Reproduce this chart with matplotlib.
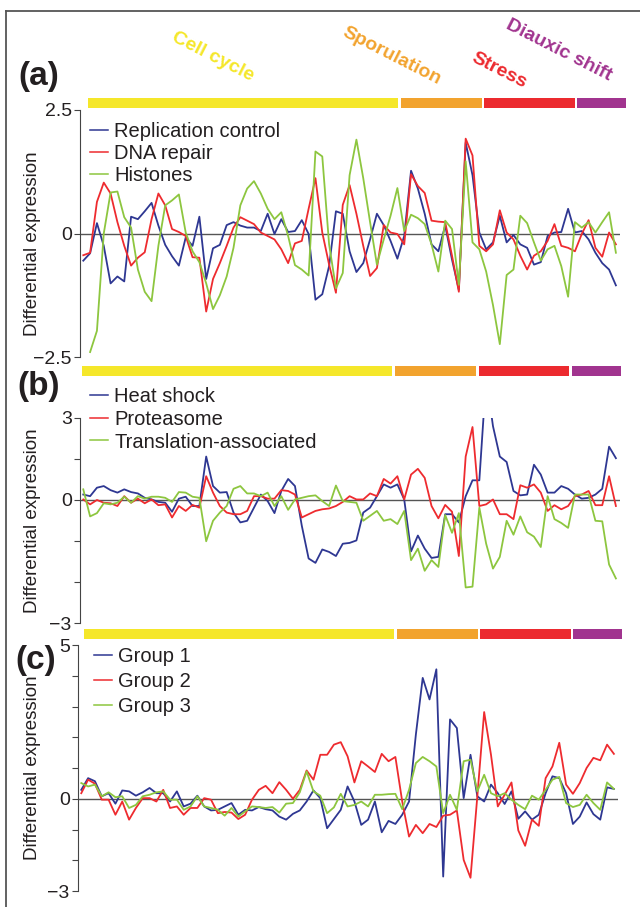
import numpy as np
import matplotlib
matplotlib.use('Agg')
import matplotlib.pyplot as plt
import matplotlib.transforms as mtransforms
from matplotlib.lines import Line2D
from matplotlib.patches import Rectangle

plt.rcParams['font.family'] = ['Liberation Sans', 'DejaVu Sans']

# condition phases shown as colour bars above each panel (edges in condition index)
phases = ['Cell cycle', 'Sporulation', 'Stress', 'Diauxic shift']
phase_colors = ['#f5e72a', '#f2a32e', '#ec2a2f', '#a1348f']
phase_edges = [0.5, 46.3, 58.55, 72.15, 79.75]

# (a) cell-cycle related modules
replication_control = [
    -0.55, -0.40, 0.21, -0.25, -1.01, -0.87, -0.97, 0.34, 0.29, 0.45,
    0.62, 0.16, -0.23, -0.46, -0.65, -0.08, -0.25, 0.34, -0.92, -0.30,
    -0.23, 0.17, 0.23, 0.16, 0.12, 0.12, 0.05, 0.40, -0.01, 0.29,
    0.03, 0.05, 0.27, -0.01, -1.34, -1.23, -0.66, 0.45, 0.40, -0.36,
    -0.78, -0.60, -0.12, 0.40, 0.17, -0.15, -0.51, -0.05, 1.27, 0.91,
    0.40, -0.22, -0.36, 0.16, -0.53, -1.14, 1.84, 1.18, 0.02, -0.32,
    -0.18, 0.36, -0.18, -0.03, -0.22, -0.29, -0.63, -0.58, -0.05, 0.02,
    0.03, 0.50, 0.02, 0.05, -0.12, -0.39, -0.60, -0.73, -1.05]
dna_repair = [
    -0.44, -0.39, 0.64, 1.03, 0.81, 0.23, -0.25, -0.65, -0.49, -0.38,
    0.29, 0.81, 0.57, 0.09, 0.03, -0.05, -0.48, -0.49, -1.58, -0.92,
    -0.60, -0.25, 0.12, 0.33, 0.26, 0.19, 0.02, -0.05, -0.12, -0.32,
    -0.60, -0.20, -0.15, 0.50, 1.12, 0.02, -0.63, -1.20, 0.58, 0.98,
    0.40, -0.25, -0.86, -0.70, 0.17, 0.02, -0.01, -0.22, 1.20, 0.96,
    0.82, 0.26, 0.24, 0.23, -0.45, -1.18, 1.92, 1.58, -0.25, -0.36,
    -0.22, 0.47, 0.02, -0.12, -0.45, -0.73, -0.45, -0.36, -0.15, 0.19,
    -0.25, -0.29, -0.36, -0.01, 0.27, -0.29, -0.47, 0.02, -0.22]
histones = [
    np.nan, -2.40, -1.97, 0.00, 0.83, 0.85, 0.33, 0.12, -0.73, -1.18,
    -1.37, -0.25, 0.57, 0.67, 0.79, 0.02, -0.36, -0.58, -1.01, -1.53,
    -1.25, -0.87, -0.29, 0.57, 0.91, 1.06, 0.81, 0.50, 0.29, 0.43,
    -0.05, -0.64, -0.73, -0.85, 1.66, 1.56, -0.22, -1.11, -0.80, 1.18,
    1.90, 1.12, 0.23, -0.63, -0.12, 0.36, 0.92, 0.05, 0.38, 0.31,
    0.19, -0.22, -0.77, 0.26, 0.09, -1.04, 1.46, -0.18, -0.32, -0.77,
    -1.45, -2.24, -0.84, -0.73, 0.36, 0.21, -0.18, -0.55, -0.32, -0.25,
    -0.66, -1.28, 0.23, 0.12, 0.23, 0.02, 0.23, 0.43, -0.39]

# (b) stress related modules
heat_shock = [
    0.20, 0.14, 0.45, 0.51, 0.36, 0.27, 0.39, 0.29, 0.24, 0.08,
    0.02, -0.07, -0.10, -0.43, 0.05, 0.12, -0.22, -0.22, 1.59, 0.51,
    0.27, 0.29, -0.46, -0.82, -0.76, -0.28, 0.20, -0.04, -0.48, 0.33,
    0.77, 0.51, -0.94, -2.14, -2.30, -1.81, -1.90, -2.05, -1.60, -1.57,
    -1.48, -0.46, -0.28, 0.14, 0.57, 0.45, 0.57, 0.02, -1.88, -1.30,
    -1.78, -2.12, -2.08, -0.52, -0.52, -0.82, 0.14, 0.72, 0.72, 4.50,
    2.70, 1.59, 1.39, 0.33, 0.17, 0.20, 1.29, 0.93, 0.27, 0.27,
    0.51, 0.41, 0.20, 0.05, 0.08, 0.20, 0.41, 1.95, 1.53]
proteasome = [
    0.02, -0.16, 0.00, -0.10, -0.12, -0.22, 0.14, -0.10, 0.05, -0.12,
    0.02, -0.19, -0.16, -0.64, -0.22, -0.40, -0.18, -0.28, 0.87, 0.27,
    -0.22, -0.46, -0.52, -0.52, -0.40, 0.14, 0.14, 0.05, 0.05, 0.36,
    0.33, 0.20, -0.64, -0.52, -0.40, -0.34, -0.31, -0.22, -0.07, 0.14,
    0.02, 0.02, 0.24, 0.14, 0.77, 0.60, 0.87, 0.02, 0.93, 1.14,
    0.81, -0.22, -0.67, -0.18, -0.43, -2.05, 1.59, 2.67, -0.22, -0.16,
    0.02, -0.52, -0.52, -0.70, 0.54, 0.45, 0.57, 0.27, -0.40, -0.19,
    -0.34, -0.22, 0.14, 0.20, 0.33, -0.19, -0.19, 0.87, -0.22]
translation = [
    0.39, -0.60, -0.48, -0.12, -0.16, -0.10, 0.12, -0.10, 0.14, 0.05,
    0.12, 0.12, 0.08, -0.07, 0.29, 0.27, 0.12, 0.08, -1.51, -0.76,
    -0.46, -0.22, 0.41, 0.51, 0.24, 0.24, 0.14, 0.27, -0.22, 0.14,
    -0.36, 0.02, 0.08, 0.14, 0.17, -0.04, -0.22, 0.53, -0.04, -0.07,
    -0.10, -0.76, -0.58, -0.40, -0.76, -0.70, -0.88, -0.40, -2.20, -1.78,
    -2.59, -2.20, -2.45, -0.55, -1.20, -0.48, -3.20, -3.17, -0.28, -1.60,
    -2.51, -2.08, -0.76, -1.27, -0.60, -1.18, -1.34, -1.72, 0.14, -0.70,
    -0.84, -1.02, 0.20, 0.20, 0.20, -0.76, -0.78, -2.36, -2.87]

# (c) groups
group1 = [
    0.29, 0.67, 0.57, 0.08, 0.18, -0.16, 0.27, 0.24, 0.10, 0.21,
    0.35, 0.18, 0.18, -0.09, 0.24, -0.25, -0.16, 0.10, -0.25, -0.38,
    -0.36, -0.25, -0.14, -0.52, -0.36, -0.38, -0.27, -0.34, -0.38, -0.58,
    -0.68, -0.49, -0.38, -0.09, 0.27, 0.02, -0.96, -0.66, -0.36, 0.40,
    -0.09, -0.85, -0.68, -0.09, -1.09, -0.72, -0.82, -0.52, -0.09, 2.09,
    3.93, 3.23, 4.21, -2.53, 2.58, 2.30, 0.02, 1.43, 0.08, -0.09,
    0.46, 0.18, -0.17, 0.24, -0.65, -0.41, -0.68, -0.52, 0.18, 0.73,
    0.67, 0.18, -0.82, -0.58, -0.12, -0.50, -0.68, 0.37, 0.32]
group2 = [
    0.18, 0.62, 0.49, -0.03, -0.03, -0.52, -0.09, -0.68, -0.30, 0.02,
    0.02, -0.09, 0.29, -0.30, -0.25, -0.52, -0.30, -0.30, 0.02, -0.03,
    -0.47, -0.43, -0.45, -0.66, -0.52, -0.03, 0.29, 0.42, 0.18, 0.54,
    0.29, 0.00, 0.29, 0.92, 0.62, 1.43, 1.43, 1.76, 1.84, 1.38,
    0.53, 1.22, 1.05, 0.87, 1.46, 1.22, 1.36, -0.09, -1.23, -0.85,
    -1.12, -0.82, -0.92, -0.55, -0.52, -0.38, -1.99, -2.57, 0.08, 2.82,
    1.43, -0.25, 0.13, 0.53, -1.03, -1.53, -0.68, -0.88, 0.67, 1.05,
    1.82, 0.46, 0.16, 0.51, 1.00, 1.33, 1.25, 1.76, 1.46]
group3 = [
    0.51, 0.40, 0.46, 0.08, 0.21, 0.05, 0.08, -0.30, -0.20, 0.08,
    0.13, 0.21, 0.24, -0.03, -0.03, -0.36, -0.25, 0.08, -0.25, -0.30,
    -0.36, -0.55, -0.30, -0.58, -0.41, -0.25, -0.27, -0.30, -0.27, -0.45,
    -0.16, -0.14, 0.21, 0.89, 0.24, 0.10, -0.47, -0.28, 0.16, -0.25,
    -0.20, -0.09, -0.25, 0.13, 0.13, 0.15, 0.16, -0.34, 0.29, 1.16,
    1.36, 1.22, 1.05, -0.47, 0.13, -0.36, 1.22, 1.27, 0.24, 0.78,
    0.18, 0.08, 0.18, -0.03, -0.20, -0.34, 0.10, -0.03, 0.29, 0.62,
    0.71, -0.14, -0.27, -0.20, 0.13, -0.14, -0.36, 0.53, 0.32]

line_colors = ['#2e3792', '#ee2b2f', '#8dc63f']
ink = '#231f20'

W, H = 640, 907
fig = plt.figure(figsize=(W / 100, H / 100), dpi=100)


def px_axes(left, top, right, bottom):
    return fig.add_axes([left / W, 1 - bottom / H, (right - left) / W, (bottom - top) / H])


panels = [
    dict(tag='(a)', box=(80, 110, 620, 357), series=[replication_control, dna_repair, histones],
         names=['Replication control', 'DNA repair', 'Histones'],
         ylim=(-2.5, 2.5), ticks=[-2.5, 0, 2.5], ticklabels=['\u22122.5', '0', '2.5'],
         leg=(0.019, 0.952), spacing=0.16, bar=(2, 10), shift=0.0, tagpos=(39, 76), ylab_y=0.46),
    dict(tag='(b)', box=(80, 418, 620, 623), series=[heat_shock, proteasome, translation],
         names=['Heat shock', 'Proteasome', 'Translation-associated'],
         ylim=(-4.5, 3), ticks=[-4.5, -3, -1.5, 0, 1.5, 3], ticklabels=['\u22123', '', '', '0', '', '3'],
         leg=(0.019, 1.15), spacing=0.18, bar=(42, 10), shift=-0.85, tagpos=(39, 386), ylab_y=0.5),
    dict(tag='(c)', box=(78, 645, 618, 891), series=[group1, group2, group3],
         names=['Group 1', 'Group 2', 'Group 3'],
         ylim=(-3, 5), ticks=list(range(-3, 6)), ticklabels=['\u22123', '', '', '0', '', '', '', '', '5'],
         leg=(0.03, 0.993), spacing=0.3, bar=(6, 10), shift=-0.3, tagpos=(36, 661), ylab_y=0.5),
]

for p in panels:
    left, top, right, bottom = p['box']
    ax = px_axes(left, top, right, bottom)
    height_px = bottom - top
    x = np.arange(len(p['series'][0]))
    ax.axhline(0, color='#555555', lw=1.0, zorder=1)
    for vals, name, col in zip(p['series'], p['names'], line_colors):
        ax.plot(x, vals, color=col, lw=1.3, label=name, zorder=2)
    ax.set_xlim(-0.48, 78.6)
    ax.set_ylim(*p['ylim'])
    ax.set_yticks(p['ticks'])
    ax.set_yticklabels(p['ticklabels'])
    ax.set_xticks([])
    for s in ['top', 'right', 'bottom']:
        ax.spines[s].set_visible(False)
    ax.spines['left'].set_color('#444444')
    ax.spines['left'].set_linewidth(0.8)
    ax.tick_params(axis='y', direction='out', length=4, width=0.8, color='#444444',
                   labelsize=14, labelcolor=ink, pad=2)
    ax.set_ylabel('Differential expression', fontsize=13.5, color=ink)
    ax.yaxis.set_label_coords((41 - left) / (right - left), p['ylab_y'])

    leg = ax.legend(loc='upper left', bbox_to_anchor=p['leg'], frameon=False, fontsize=14.5,
                    handlelength=0.9, handletextpad=0.3, labelspacing=p['spacing'],
                    borderpad=0, borderaxespad=0)
    for h in leg.get_lines():
        h.set_linewidth(1.1)
    for t in leg.get_texts():
        t.set_color(ink)

    # phase bars above the panel
    gap_px, bar_px = p['bar']
    trans = mtransforms.blended_transform_factory(ax.transData, ax.transAxes)
    y0 = 1 + gap_px / height_px
    for i, col in enumerate(phase_colors):
        x0 = phase_edges[i] + 0.2 + p['shift']
        x1 = phase_edges[i + 1] - 0.2 + p['shift']
        ax.add_patch(Rectangle((x0, y0), x1 - x0, bar_px / height_px, transform=trans,
                               facecolor=col, edgecolor='none', clip_on=False))

    fig.text(p['tagpos'][0] / W, 1 - p['tagpos'][1] / H, p['tag'], fontsize=24,
             fontweight='bold', color=ink, ha='center', va='center')

# rotated phase names at the top
phase_label_pos = [(213, 57), (392, 56), (499, 71), (559, 50)]
for name, col, (px, py) in zip(phases, phase_colors, phase_label_pos):
    fig.text(px / W, 1 - py / H, name, color=col, fontsize=14, fontweight='bold',
             rotation=-27, ha='center', va='center', rotation_mode='anchor')

# figure frame (top and left edges)
fig.add_artist(Line2D([6 / W, 1], [1 - 11 / H, 1 - 11 / H], color='#555555', lw=1.3))
fig.add_artist(Line2D([6 / W, 6 / W], [0, 1 - 11 / H], color='#555555', lw=1.3))

fig.savefig('out.png', dpi=100)
